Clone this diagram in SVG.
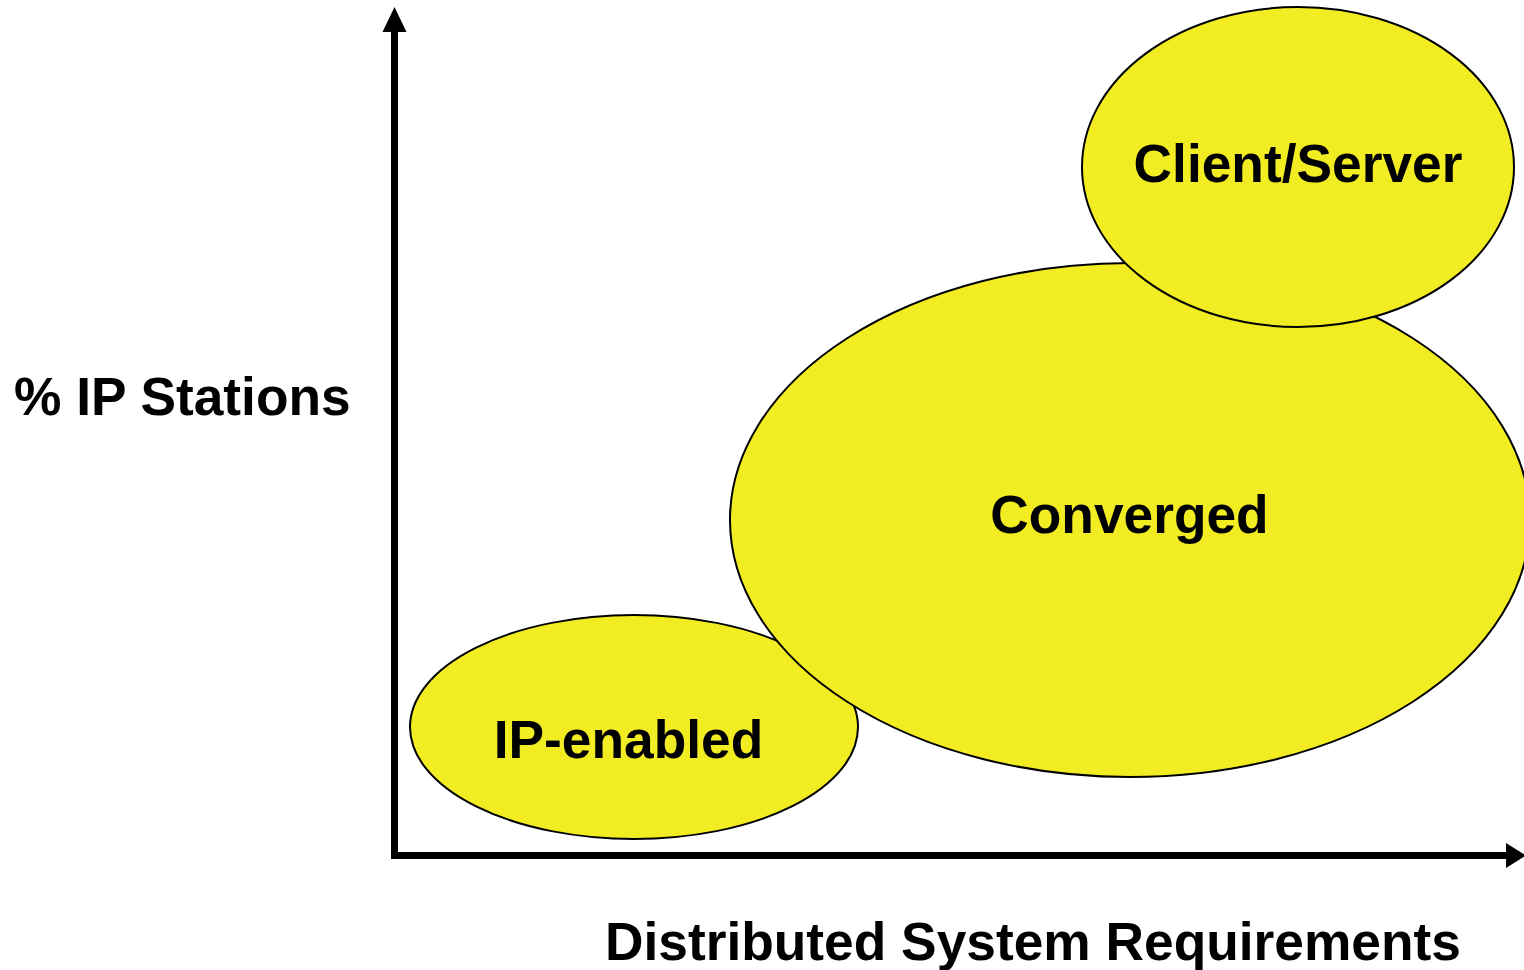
<svg xmlns="http://www.w3.org/2000/svg" width="1524" height="970" viewBox="0 0 1524 970">
  <style>
    .bubble { fill: #f2ed22; stroke: #000; stroke-width: 2; }
    .label { font-family: "Liberation Sans", Arial, sans-serif; font-weight: bold; font-size: 53.3px; fill: #000; }
    .axis { stroke: #000; stroke-width: 7; fill: none; }
  </style>
  <rect width="1524" height="970" fill="#fff"/>

  <!-- axes -->
  <g id="axes">
    <line class="axis" x1="394.5" y1="859" x2="394.5" y2="30"/>
    <polygon points="394.5,7 382.5,32 406.5,32" fill="#000"/>
    <line class="axis" x1="391" y1="855.5" x2="1508" y2="855.5"/>
    <polygon points="1526,855.5 1506,843 1506,868" fill="#000"/>
  </g>

  <g id="ip-enabled">
    <ellipse class="bubble" cx="634" cy="727" rx="224" ry="112"/>
    <text class="label" x="628.5" y="758" text-anchor="middle">IP-enabled</text>
  </g>

  <g id="converged">
    <ellipse class="bubble" cx="1130" cy="520" rx="400" ry="257"/>
    <text class="label" x="1129.5" y="533" text-anchor="middle">Converged</text>
  </g>

  <g id="client-server">
    <ellipse class="bubble" cx="1298" cy="167" rx="216" ry="160"/>
    <text class="label" x="1298" y="182" text-anchor="middle">Client/Server</text>
  </g>

  <g id="axis-labels">
    <text class="label" x="14" y="415">% IP Stations</text>
    <text class="label" x="605" y="960">Distributed System Requirements</text>
  </g>
</svg>
